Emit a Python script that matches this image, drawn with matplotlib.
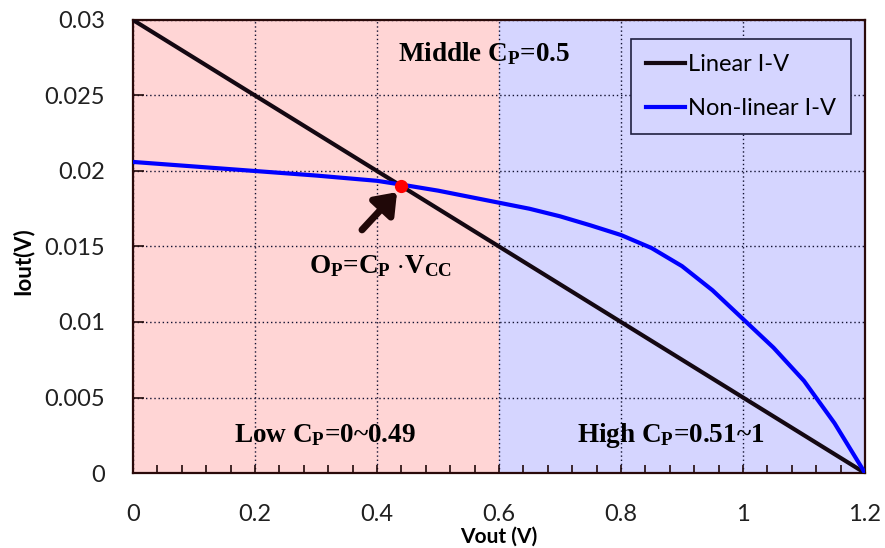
import matplotlib
matplotlib.use("Agg")
import matplotlib.pyplot as plt
from matplotlib.ticker import MultipleLocator

# data
lin_v = [0.0, 1.2]
lin_i = [0.03, 0.0]
nl_v = [0, 0.1, 0.2, 0.3, 0.4, 0.44, 0.5, 0.55, 0.6, 0.65, 0.7, 0.75, 0.8,
        0.85, 0.9, 0.95, 1.0, 1.05, 1.1, 1.15, 1.2]
nl_i = [0.0206, 0.0203, 0.0200, 0.0197, 0.01935, 0.0191, 0.0187, 0.0183,
        0.0179, 0.0175, 0.0170, 0.0164, 0.01576, 0.0149, 0.0137, 0.0121,
        0.0102, 0.0083, 0.0061, 0.0033, 0.0]
op_v, op_i = 0.44, 0.019
low_span = (0.0, 0.6)
high_span = (0.6, 1.2)
xticks = [0, 0.2, 0.4, 0.6, 0.8, 1.0, 1.2]
xtick_labels = ['0', '0.2', '0.4', '0.6', '0.8', '1', '1.2']
yticks = [0, 0.005, 0.01, 0.015, 0.02, 0.025, 0.03]
ytick_labels = ['0', '0.005', '0.01', '0.015', '0.02', '0.025', '0.03']

plt.rcParams['mathtext.fontset'] = 'custom'
plt.rcParams['mathtext.rm'] = 'Liberation Serif:bold'
plt.rcParams['mathtext.it'] = 'Liberation Serif:bold'
plt.rcParams['mathtext.bf'] = 'Liberation Serif:bold'

fig = plt.figure(figsize=(8.85, 5.48), dpi=100)
ax = fig.add_axes([133/885, 1-473/548, 732/885, 453/548])

ax.axvspan(*low_span, color='#ffd5d5', zorder=0, lw=0)
ax.axvspan(*high_span, color='#d5d5ff', zorder=0, lw=0)

ax.grid(True, which='major', color='#101030', linestyle=(0, (1, 2)), lw=1.0, zorder=1)

ax.plot(lin_v, lin_i, color='#140812', lw=3, label='Linear I-V', zorder=3)
ax.plot(nl_v, nl_i, color='#0000ff', lw=3, label='Non-linear I-V', zorder=3,
        solid_joinstyle='round')
ax.plot([op_v], [op_i], 'o', color='#ff0000', ms=8.5, zorder=5)

ax.annotate('', xy=(0.4328, 0.0186), xytext=(0.3754, 0.0161),
            arrowprops=dict(arrowstyle='-|>,head_length=0.6,head_width=0.45',
                            mutation_scale=20, color='#200808', lw=5,
                            shrinkA=0, shrinkB=0), zorder=4)

tkw = dict(fontfamily='Liberation Serif', fontweight='bold', fontsize=19.5,
           ha='center', va='center', zorder=6)
ax.text(0.575, 0.02775, r'Middle C$_\mathrm{P}$=0.5', **tkw)
ax.text(0.4066, 0.0137, r'O$_\mathrm{P}$=C$_\mathrm{P}$ $\cdot$V$_\mathrm{CC}$', **tkw)
ax.text(0.315, 0.0025, r'Low C$_\mathrm{P}$=0~0.49', **tkw)
ax.text(0.882, 0.0025, r'High C$_\mathrm{P}$=0.51~1', **tkw)

ax.set_xlim(0, 1.2)
ax.set_ylim(0, 0.03)
ax.set_xticks(xticks)
ax.set_xticklabels(xtick_labels)
ax.set_yticks(yticks)
ax.set_yticklabels(ytick_labels)
ax.xaxis.set_minor_locator(MultipleLocator(0.04))
ax.tick_params(axis='x', which='both', direction='in', length=6, width=1.2,
               color='#200a0a', pad=22, labelsize=17)
ax.tick_params(axis='y', which='major', direction='in', length=8, width=1.2,
               color='#200a0a', pad=20, labelsize=17)
for lab in ax.get_xticklabels() + ax.get_yticklabels():
    lab.set_fontfamily('Lato')
    lab.set_color('#202020')

for s in ax.spines.values():
    s.set_color('#2a0a0a')
    s.set_linewidth(1.6)

ax.set_xlabel('Vout (V)', fontfamily='Lato', fontweight='bold', fontsize=15,
              va='center')
ax.xaxis.set_label_coords(0.5, -0.141)
ax.set_ylabel('Iout(V)', fontfamily='Lato', fontweight='bold', fontsize=16,
              va='center')
ax.yaxis.set_label_coords(-0.150, 0.468)

leg = ax.legend(loc='upper left', bbox_to_anchor=((631-133)/732, (473-39)/453),
                borderaxespad=0, fancybox=False,
                framealpha=1, facecolor='#d5d5ff', edgecolor='#202040',
                prop={'family': 'Lato', 'size': 17}, handlelength=1.65,
                handletextpad=0.1, labelspacing=0.95, borderpad=0.65)
leg.get_frame().set_linewidth(1.2)
leg.set_zorder(7)

fig.savefig('out.png', dpi=100)
